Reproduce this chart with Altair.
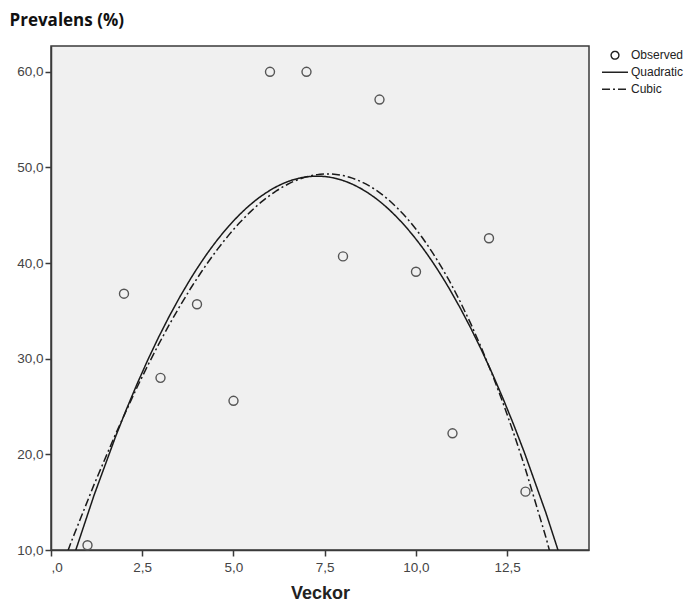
import altair as alt
import pandas as pd

weeks = [1, 2, 3, 4, 5, 6, 7, 8, 9, 10, 11, 12, 13]
prevalence = [10.5, 36.8, 28.0, 35.7, 25.6, 60.0, 60.0, 40.7, 57.1, 39.1, 22.2, 42.6, 16.1]
series_names = ["Observed", "Quadratic", "Cubic"]
x_ticks = [0, 2.5, 5, 7.5, 10, 12.5]
y_ticks = [10, 20, 30, 40, 50, 60]

df = pd.DataFrame({"x": weeks, "y": prevalence})

XMAX = 14.74
YMIN, YMAX = 10, 62.7
INK = "#3a3a3a"

circle_path = "M -0.3,0 A 0.3,0.3 0 1,1 0.3,0 A 0.3,0.3 0 1,1 -0.3,0"
line_path = "M -1,0 L 1,0"

x_enc = alt.X(
    "x:Q",
    scale=alt.Scale(domain=[0, XMAX], nice=False, zero=False),
    axis=alt.Axis(
        values=x_ticks,
        grid=False,
        labelExpr="datum.value == 0 ? ',0' : replace(format(datum.value, '.1f'), '.', ',')",
        title="Veckor",
        titleFont="Liberation Sans",
        titleFontSize=18,
        titleFontWeight="bold",
        titleColor="#222",
        titleY=43,
        titleBaseline="middle",
        labelPadding=4,
    ),
)
y_enc = alt.Y(
    "y:Q",
    scale=alt.Scale(domain=[YMIN, YMAX], nice=False, zero=False),
    axis=alt.Axis(
        values=y_ticks,
        grid=False,
        labelExpr="replace(format(datum.value, '.1f'), '.', ',')",
        title="Prevalens (%)",
        titleAngle=0,
        titleAlign="left",
        titleBaseline="middle",
        titleX=-42,
        titleY=-26,
        titleFont="Open Sans",
        titleFontSize=17,
        titleFontWeight="bold",
        titleColor="#111",
        labelPadding=2,
    ),
)

legend = alt.Legend(
    title=None,
    orient="none",
    legendX=550,
    legendY=1,
    symbolSize=676,
    symbolStrokeWidth=1.4,
    symbolStrokeColor="#222",
    symbolFillColor="transparent",
    labelFont="Liberation Sans",
    labelFontSize=12,
    labelColor="#222",
    labelOffset=2,
    labelLimit=60,
    rowPadding=0,
    clipHeight=16.5,
    padding=0,
)

points = (
    alt.Chart(df)
    .transform_calculate(series="'Observed'")
    .mark_point(filled=False, size=900, stroke="#555", strokeWidth=1.4, opacity=1)
    .encode(
        x=x_enc,
        y=y_enc,
        shape=alt.Shape(
            "series:N",
            scale=alt.Scale(domain=series_names, range=[circle_path, line_path, line_path]),
            legend=legend,
        ),
    )
)

quad = (
    alt.Chart(df)
    .transform_regression("x", "y", method="poly", order=2, extent=[0, XMAX])
    .transform_calculate(series="'Quadratic'")
)
cubic = (
    alt.Chart(df)
    .transform_regression("x", "y", method="poly", order=3, extent=[0, XMAX])
    .transform_calculate(series="'Cubic'")
)

dash_scale = alt.Scale(domain=series_names, range=[[1, 0], [1, 0], [8, 3, 2, 3]])

quad_line = quad.mark_line(clip=True, color="#1a1a1a", strokeWidth=1.5).encode(
    x="x:Q", y="y:Q", strokeDash=alt.StrokeDash("series:N", scale=dash_scale, legend=legend)
)
cubic_line = cubic.mark_line(clip=True, color="#1a1a1a", strokeWidth=1.5).encode(
    x="x:Q", y="y:Q", strokeDash=alt.StrokeDash("series:N", scale=dash_scale, legend=legend)
)

chart = (
    alt.layer(points, quad_line, cubic_line)
    .properties(
        width=538,
        height=504,
        autosize=alt.AutoSizeParams(type="none"),
        padding={"left": 43, "top": 38, "right": 96, "bottom": 54},
        background="white",
    )
    .configure_view(fill="#f0f0f0", stroke=INK, strokeWidth=1.5)
    .configure_axis(
        grid=False,
        domainColor=INK,
        domainWidth=1.5,
        tickColor=INK,
        tickWidth=1.5,
        tickSize=6,
        labelFont="Liberation Sans",
        labelFontSize=13.5,
        labelColor="#444",
    )
)

chart.save("out.html", embed_options={"renderer": "svg", "actions": False})
